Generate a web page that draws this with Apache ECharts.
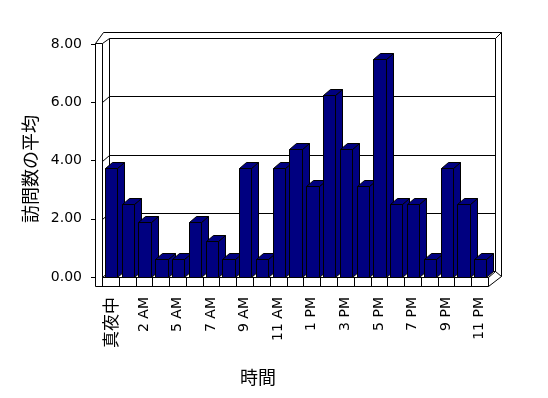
<!DOCTYPE html>
<html>
<head>
<meta charset="utf-8">
<script src="https://cdn.jsdelivr.net/npm/echarts@6/dist/echarts.min.js"></script>
<style>
html,body{margin:0;padding:0;background:#fff;}
#chart{width:548px;height:398px;}
</style>
</head>
<body>
<div id="chart"></div>
<script>
// ---- data ----
const categories = ['真夜中','1 AM','2 AM','3 AM','5 AM','6 AM','7 AM','8 AM','9 AM','10 AM','11 AM','12 PM','1 PM','2 PM','3 PM','4 PM','5 PM','6 PM','7 PM','8 PM','9 PM','10 PM','11 PM'];
const values = [3.75,2.5,1.88,0.63,0.63,1.88,1.25,0.63,3.75,0.63,3.75,4.38,3.13,6.25,4.38,3.13,7.5,2.5,2.5,0.63,3.75,2.5,0.63];
const yTicks = [0,2,4,6,8];
const yTitle = '訪問数の平均';
const xTitle = '時間';

// ---- styling constants ----
const DX = 7, DY = -6;
const FONT = 'DejaVu Sans, "Noto Sans CJK JP", sans-serif';
const CJK = '"Noto Sans CJK JP", sans-serif';
const px = v => Math.round(v) + 0.5;
const P = (x, y) => [px(x), px(y)];
const ln = (a, b) => ({type:'line', shape:{x1:a[0],y1:a[1],x2:b[0],y2:b[1]}, style:{stroke:'#000', lineWidth:1}});

function frameItem(params, api) {
  const cs = params.coordSys;
  const L = cs.x, T = cs.y, R = cs.x + cs.width, B = cs.y + cs.height;
  const ch = [];
  ch.push({type:'polygon', shape:{points:[P(L-7,T-1),P(L+1,T-12),P(R+13,T-12),P(R+13,B-1),P(R,B+9),P(L-7,B+9)]},
    style:{fill:'#fff', stroke:'#000', lineWidth:1}});
  ch.push({type:'polygon', shape:{points:[P(L+DX,T+DY),P(R+DX,T+DY),P(R+DX,B+DY),P(L+DX,B+DY)]},
    style:{fill:'#fff', stroke:'#000', lineWidth:1}});
  ch.push({type:'polygon', shape:{points:[P(L,B),P(R,B),P(R+DX,B+DY),P(L+DX,B+DY)]},
    style:{fill:'#fff', stroke:'#000', lineWidth:1}});
  ch.push(ln(P(L,T-1),P(L,B)));
  ch.push(ln(P(L-7,T-1),P(L,T-1)));
  ch.push(ln(P(L,T-1),P(L+DX,T+DY)));
  ch.push(ln(P(R+DX,T+DY),P(R+13,T-12)));
  ch.push(ln(P(R+DX,B+DY),P(R+13,B-1)));
  yTicks.forEach(t => {
    if (t === 0 || t === yTicks[yTicks.length-1]) return;
    const y = api.coord([0, t])[1];
    ch.push(ln(P(L+DX,y+DY),P(R+DX,y+DY)));
    ch.push(ln(P(L,y),P(L+DX,y+DY)));
  });
  const n = categories.length;
  for (let i = 0; i <= n; i++) {
    const x = L + i * cs.width / n;
    ch.push(ln(P(x,B),P(x,B+9)));
  }
  return {type:'group', children:ch};
}

function barItem(params, api) {
  const i = api.value(0), v = api.value(1);
  const base = api.coord([i, 0]);
  const top = api.coord([i, v]);
  const bw = api.size([1, 0])[0];
  const x0 = Math.round(base[0] - bw * 0.33) + 0.5;
  const x1 = Math.round(base[0] - bw * 0.33 + bw * 0.735) + 0.5;
  const yb = px(base[1]), yt = px(top[1]);
  const st = {fill:'#000080', stroke:'#000', lineWidth:1};
  return {type:'group', children:[
    {type:'polygon', shape:{points:[[x1,yt],[x1+DX,yt+DY],[x1+DX,yb+DY],[x1,yb]]}, style:st},
    {type:'polygon', shape:{points:[[x0,yt],[x0+DX,yt+DY],[x1+DX,yt+DY],[x1,yt]]}, style:st},
    {type:'polygon', shape:{points:[[x0,yt],[x1,yt],[x1,yb],[x0,yb]]}, style:st}
  ]};
}

const chart = echarts.init(document.getElementById('chart'), null, {renderer:'canvas'});
chart.setOption({
  animation: false,
  backgroundColor: '#fff',
  grid: {left:102, right:60, top:44, bottom:121},
  xAxis: {
    type:'category', data:categories,
    axisLine:{show:false}, axisTick:{show:false}, splitLine:{show:false},
    axisLabel:{interval:1, rotate:90, margin:20, color:'#000', fontSize:14, fontFamily:FONT,
      formatter: v => /[^\x00-\x7f]/.test(v) ? '{c|' + v + '}' : v,
      rich:{c:{fontSize:17, fontFamily:CJK, color:'#000'}}}
  },
  yAxis: {
    type:'value', min:yTicks[0], max:yTicks[yTicks.length-1], interval:2, offset:7,
    axisLine:{show:false}, splitLine:{show:false},
    axisTick:{show:true, length:4, lineStyle:{color:'#000'}},
    axisLabel:{margin:13, color:'#000', fontSize:14, fontFamily:FONT, formatter:v => v.toFixed(2)}
  },
  graphic: [
    {type:'text', x:30, y:169, rotation:Math.PI/2,
      style:{text:yTitle, fill:'#000', font:'18px ' + CJK, textAlign:'center', textVerticalAlign:'middle'}},
    {type:'text', x:258, y:377,
      style:{text:xTitle, fill:'#000', font:'18px ' + CJK, textAlign:'center', textVerticalAlign:'middle'}}
  ],
  series: [
    {type:'custom', z:1, silent:true, renderItem:frameItem, data:[[0,0]], encode:{x:0,y:1}},
    {type:'custom', z:2, renderItem:barItem, data:values.map((v,i)=>[i,v]), encode:{x:0,y:1}}
  ]
});
</script>
</body>
</html>
